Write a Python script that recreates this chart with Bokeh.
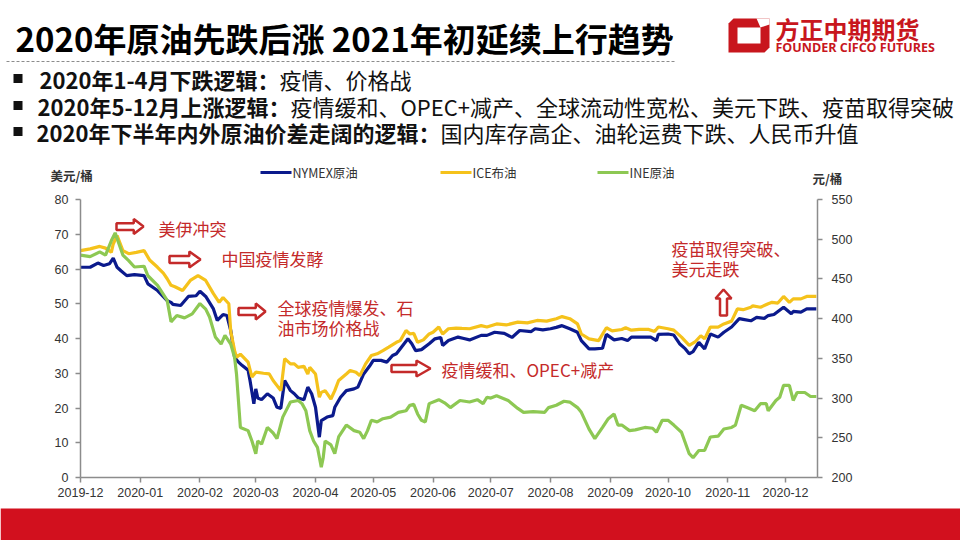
import pandas as pd
from bokeh.plotting import figure
from bokeh.models import Range1d, LinearAxis, FixedTicker, DatetimeTickFormatter
from bokeh.core.properties import value
from bokeh.embed import file_html
from bokeh.resources import INLINE

# ---------------- data ----------------
month_labels = ["2019-12", "2020-01", "2020-02", "2020-03", "2020-04", "2020-05", "2020-06",
                "2020-07", "2020-08", "2020-09", "2020-10", "2020-11", "2020-12"]
left_ticks = [0, 10, 20, 30, 40, 50, 60, 70, 80]
right_ticks = [200, 250, 300, 350, 400, 450, 500, 550]

# days counted from 2019-12-01
nymex_day = [0, 5, 9, 12, 15, 17, 19, 21, 24, 28, 33, 35, 40, 45, 47, 48, 52, 56, 60, 62, 65, 69, 71,
             74, 76, 78, 80, 82, 84, 87, 88, 90, 91, 92, 94, 97, 100, 102, 104, 106, 109, 111, 113,
             116, 118, 120, 122, 124, 125, 128, 131, 132, 135, 138, 142, 144, 147, 150, 152, 156,
             159, 162, 164, 168, 170, 172, 174, 177, 181, 184, 187, 188, 191, 196, 199, 202, 208,
             211, 215, 220, 224, 228, 234, 236, 240, 244, 247, 250, 254, 258, 260, 264, 267, 271,
             273, 277, 281, 284, 286, 291, 296, 299, 300, 305, 308, 311, 314, 316, 318, 321, 324,
             327, 331, 334, 338, 342, 344, 348, 351, 355, 357, 360, 365, 369, 370, 374, 377, 382]
nymex_usd = [60.5, 60.5, 61.7, 61.0, 61.5, 63.1, 60.5, 59.5, 58.1, 58.4, 58.1, 55.7, 53.8, 50.9, 50.4,
             49.8, 49.5, 52.1, 52.3, 53.6, 52.1, 48.5, 45.2, 46.9, 46.6, 42.3, 34.6, 33.2, 32.2, 30.9,
             27.9, 21.2, 25.5, 22.9, 22.4, 24.1, 22.9, 20.2, 19.9, 27.9, 25.0, 24.1, 22.9, 22.4, 26.0,
             24.1, 20.2, 11.6, 16.4, 17.4, 17.8, 20.2, 23.1, 25.0, 25.5, 26.0, 29.8, 32.0, 33.7, 33.7,
             33.2, 35.1, 35.6, 38.5, 39.9, 38.5, 36.5, 36.8, 38.5, 39.9, 40.3, 38.0, 39.4, 40.4, 40.0,
             39.6, 40.9, 40.9, 41.8, 41.5, 40.3, 42.3, 42.0, 42.8, 42.5, 42.8, 43.2, 43.7, 42.8, 41.8,
             39.4, 37.0, 37.0, 37.2, 41.2, 39.6, 40.0, 39.4, 40.4, 40.4, 40.4, 39.4, 41.2, 41.3, 41.0,
             38.5, 37.0, 35.6, 36.2, 38.9, 37.0, 41.3, 40.4, 41.8, 43.3, 45.7, 45.5, 45.1, 46.1, 45.8,
             46.6, 46.9, 49.0, 47.1, 47.8, 47.6, 48.5, 48.5]

ice_day = [0, 5, 10, 13, 16, 17, 19, 22, 25, 29, 33, 36, 40, 43, 45, 47, 49, 53, 57, 61, 65, 69, 72,
           74, 77, 78, 80, 81, 83, 87, 89, 91, 95, 98, 100, 104, 106, 109, 111, 113, 116, 118, 119,
           122, 124, 125, 127, 130, 132, 134, 138, 140, 143, 145, 148, 151, 154, 157, 160, 164, 166,
           169, 171, 173, 175, 178, 181, 183, 186, 188, 191, 195, 198, 202, 208, 211, 216, 221, 227,
           232, 237, 242, 247, 250, 254, 258, 260, 264, 269, 273, 276, 281, 283, 286, 290, 295, 298,
           300, 305, 308, 312, 316, 319, 322, 324, 327, 331, 334, 338, 341, 344, 348, 349, 353, 357,
           359, 362, 365, 368, 370, 374, 377, 382]
ice_usd = [65.3, 65.8, 66.5, 66.0, 64.8, 67.2, 69.6, 65.3, 64.4, 64.8, 65.3, 62.5, 60.5, 58.8, 57.2,
           55.3, 54.9, 53.8, 56.7, 58.1, 56.7, 52.9, 50.4, 51.8, 50.0, 42.0, 36.5, 34.6, 35.5, 33.2,
           28.9, 30.3, 30.0, 29.8, 27.9, 25.0, 34.2, 32.7, 32.7, 31.7, 32.0, 29.8, 31.7, 29.8, 23.1,
           24.5, 25.0, 22.6, 25.0, 27.9, 29.8, 30.8, 30.3, 29.3, 32.7, 35.1, 35.6, 36.5, 37.5, 38.9,
           39.4, 42.3, 41.3, 41.5, 38.9, 39.6, 41.3, 41.8, 43.3, 41.3, 42.8, 43.0, 42.9, 42.8, 43.7,
           43.3, 44.2, 43.9, 44.7, 44.5, 45.2, 45.0, 45.7, 46.3, 45.7, 44.2, 41.3, 39.9, 39.4, 43.1,
           42.2, 42.6, 43.1, 42.4, 42.6, 42.6, 42.0, 43.3, 42.8, 42.4, 40.4, 38.0, 39.0, 40.8, 39.9,
           43.3, 43.3, 44.2, 45.0, 48.5, 48.3, 49.0, 49.4, 49.0, 50.0, 50.4, 50.2, 52.1, 50.4, 51.4,
           51.4, 52.1, 52.1]

ine_day = [0, 5, 10, 13, 16, 18, 20, 22, 25, 28, 33, 35, 40, 45, 47, 50, 54, 58, 62, 65, 67, 70, 73,
           75, 78, 80, 81, 83, 87, 89, 91, 92, 94, 97, 100, 102, 105, 109, 113, 115, 117, 119, 121,
           123, 125, 126, 127, 130, 132, 134, 138, 142, 145, 147, 149, 151, 154, 157, 161, 165, 169,
           171, 173, 175, 177, 179, 181, 186, 189, 192, 197, 202, 206, 209, 211, 213, 216, 222, 227,
           230, 235, 241, 243, 247, 251, 254, 258, 260, 264, 267, 271, 274, 277, 279, 281, 285, 288,
           293, 297, 299, 302, 305, 308, 312, 316, 318, 321, 324, 327, 331, 334, 338, 340, 343, 346,
           350, 353, 356, 357, 361, 363, 365, 368, 370, 372, 376, 379, 382]
ine_cny = [480, 478, 484, 480, 498, 508, 494, 480, 473, 465, 466, 454, 442, 423, 396, 404, 401, 406,
           419, 412, 402, 377, 368, 379, 368, 351, 330, 263, 259, 246, 230, 246, 242, 263, 256, 249,
           276, 295, 297, 293, 284, 259, 246, 238, 213, 225, 246, 241, 230, 251, 266, 259, 257, 249,
           259, 272, 270, 274, 276, 282, 284, 291, 292, 280, 272, 270, 293, 298, 294, 288, 297, 295,
           298, 293, 301, 300, 303, 297, 287, 282, 283, 282, 288, 291, 296, 295, 288, 282, 261, 249,
           263, 274, 280, 266, 266, 259, 260, 263, 262, 257, 272, 272, 266, 257, 230, 225, 234, 234,
           251, 252, 261, 263, 266, 291, 288, 284, 293, 293, 284, 297, 301, 316, 316, 297, 307, 307,
           302, 302]

series_names = ["NYMEX原油", "ICE布油", "INE原油"]
series_colors = ["#0B1A8C", "#F5C21B", "#8DC853"]

# ---------------- page geometry ----------------
W, H = 960, 540
PX_L, PX_R, PX_T, PX_B = 80, 817, 199, 477     # plot area inside the page (pixels)
X_DAYS = 382.6                                  # days spanned by the plot area
base = pd.Timestamp("2019-12-01")
px_per_day = (PX_R - PX_L) / X_DAYS


def ms(ts):
    return ts.value // 10**6


def to_dates(days):
    return [base + pd.Timedelta(days=d) for d in days]


def page_range(lo, hi):
    per = (hi - lo) / (PX_B - PX_T)
    return Range1d(lo - (H - PX_B) * per, hi + PX_T * per)


x_end_plot = base + pd.Timedelta(days=X_DAYS)
x_range = Range1d(base - pd.Timedelta(days=PX_L / px_per_day),
                  base + pd.Timedelta(days=(W - PX_L) / px_per_day))

RED = "#C8161D"
TXT_RED = "#C42A2A"
CJK = "Noto Sans CJK SC"

p = figure(width=W, height=H, x_axis_type="datetime", output_backend="svg",
           toolbar_location=None, x_range=x_range, y_range=page_range(0, 80), min_border=0)
p.extra_y_ranges = {"yuan": page_range(200, 550), "page_y": Range1d(H, 0)}
p.extra_x_ranges = {"page_x": Range1d(0, W)}
p.grid.visible = False
p.outline_line_color = None
p.background_fill_color = "white"
p.border_fill_color = "white"

right_axis = LinearAxis(y_range_name="yuan")
p.add_layout(right_axis, "right")

p.xaxis[0].fixed_location = 0
p.yaxis[0].fixed_location = ms(base)
right_axis.fixed_location = ms(x_end_plot)
p.xaxis[0].bounds = (ms(base), ms(x_end_plot))
p.yaxis[0].bounds = (0, 80)
right_axis.bounds = (200, 550)

p.xaxis[0].ticker = FixedTicker(ticks=[ms(pd.Timestamp(m + "-01")) for m in month_labels])
p.xaxis[0].formatter = DatetimeTickFormatter(days="%Y-%m", months="%Y-%m", years="%Y-%m")
p.yaxis[0].ticker = FixedTicker(ticks=left_ticks)
right_axis.ticker = FixedTicker(ticks=right_ticks)

for ax in [p.xaxis[0], p.yaxis[0], right_axis]:
    ax.axis_line_color = "#8C8C8C"
    ax.axis_line_width = 1.5
    ax.major_tick_line_color = "#8C8C8C"
    ax.major_tick_line_width = 1.5
    ax.major_tick_out = 5
    ax.major_tick_in = 0
    ax.minor_tick_line_color = None
    ax.major_label_text_font = "Liberation Sans"
    ax.major_label_text_font_size = "12.5px"
    ax.major_label_text_color = "#333333"
p.xaxis[0].major_label_standoff = 5
p.yaxis[0].major_label_standoff = 7
right_axis.major_label_standoff = 9

# ---------------- price lines ----------------
p.line(to_dates(nymex_day), nymex_usd, line_color=series_colors[0], line_width=3.2)
p.line(to_dates(ice_day), ice_usd, line_color=series_colors[1], line_width=3.2)
p.line(to_dates(ine_day), ine_cny, line_color=series_colors[2], line_width=3.2, y_range_name="yuan")

PG = dict(x_range_name="page_x", y_range_name="page_y")


def txt(x, y, s, size, color="#000000", bold=False, align="left", font=CJK):
    p.text(x=[x], y=[y], text=[s], text_font=value(font), text_font_size=value(size),
           text_color=color, text_font_style="bold" if bold else "normal",
           text_align=align, text_baseline="middle", **PG)


def rect(l, r, t, b, color):
    p.quad(left=[l], right=[r], top=[t], bottom=[b], fill_color=color, line_color=None, **PG)


def poly(xs, ys, fill, line=None, lw=1.0):
    p.patch(xs, ys, fill_color=fill, line_color=line, line_width=lw, **PG)


# title
txt(15, 37, "2020年原油先跌后涨 2021年初延续上行趋势", "33px", bold=True)
p.line([6, 676], [61, 61], line_color="#8C8C8C", line_width=1, line_dash="3 2", **PG)

# logo
poly([733, 769, 769, 764, 728, 728], [18, 18, 47, 52, 52, 23], RED)
poly([737, 760, 760, 737], [27, 27, 43, 43], "white")
poly([756, 769, 769, 760], [18, 18, 24, 27], "white")
txt(775, 28, "方正中期期货", "24px", RED, bold=True)
txt(775, 47, "FOUNDER CIFCO FUTURES", "12.5px", RED, bold=True, font="Open Sans")

# bullet lines
bullets = [
    (78, "2020年1-4月下跌逻辑：", "疫情、价格战", 279),
    (105, "2020年5-12月上涨逻辑：", "疫情缓和、OPEC+减产、全球流动性宽松、美元下跌、疫苗取得突破", 290),
    (131, "2020年下半年内外原油价差走阔的逻辑：", "国内库存高企、油轮运费下跌、人民币升值", 440),
]
for yb, head, body, split in bullets:
    rect(13, 22, yb - 4.5, yb + 4.5, "#111111")
    txt(split, yb, head, "22px", "#111111", bold=True, align="right")
    txt(split, yb, body, "22px", "#111111")

# legend
legend_x = [260, 440, 597]
for lx, name, col in zip(legend_x, series_names, series_colors):
    p.line([lx, lx + 31], [172, 172], line_color=col, line_width=3, **PG)
    txt(lx + 32, 172, name, "12.5px", "#333333")

txt(50, 175, "美元/桶", "12.5px", "#333333", bold=True)
txt(812, 178, "元/桶", "12.5px", "#333333", bold=True)


# annotation arrows & texts
def right_arrow(x0, x1, yc, hh):
    xh = x1 - (x1 - x0) * 0.36
    bh = hh * 0.45
    poly([x0, xh, xh, x1, xh, xh, x0], [yc - bh, yc - bh, yc - hh, yc, yc + hh, yc + bh, yc + bh],
         "white", TXT_RED, 2.5)


right_arrow(116, 143, 226, 7.5)
right_arrow(169, 200, 259, 8)
right_arrow(238, 265, 311, 8)
right_arrow(391, 430, 368, 8)
xc, ytip, ytail, hw, bw = 723, 289, 315, 8, 3.5
poly([xc - bw, xc - bw, xc - hw, xc, xc + hw, xc + bw, xc + bw],
     [ytail, ytip + 9, ytip + 9, ytip, ytip + 9, ytip + 9, ytail], "white", TXT_RED, 2.5)

txt(158, 228, "美伊冲突", "17px", TXT_RED)
txt(221, 258, "中国疫情发酵", "17px", TXT_RED)
txt(277, 307, "全球疫情爆发、石", "17px", TXT_RED)
txt(277, 327, "油市场价格战", "17px", TXT_RED)
txt(441, 369, "疫情缓和、OPEC+减产", "17px", TXT_RED)
txt(671, 248, "疫苗取得突破、", "17px", TXT_RED)
txt(671, 268, "美元走跌", "17px", TXT_RED)

# bottom red band
rect(0, W, 508, H, "#D2101E")

open("out.html", "w").write(file_html(p, INLINE))
